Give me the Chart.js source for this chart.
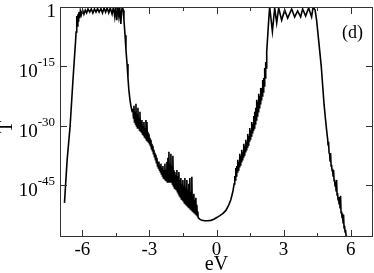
<!DOCTYPE html>
<html>
<head>
<meta charset="utf-8">
<script src="https://cdn.jsdelivr.net/npm/chart.js@4/dist/chart.umd.min.js"></script>
<style>
  html, body { margin: 0; padding: 0; background: #fff; }
  canvas { display: block; }
</style>
</head>
<body>
<canvas id="chart" width="374" height="273"></canvas>
<script>
// energies in eV, transmission given as log10(T)
const leftEdge = [[-6.80,-49.4],[-6.68,-38.5],[-6.55,-30.2],[-6.42,-18.4],[-6.30,-8.3],[-6.28,-6.3]];
const leftPlateau = [[-6.25,-2.3],[-6.23,-4.8],[-6.20,-1.8],[-6.17,-3.8],[-6.15,-1.3],[-6.12,-2.8],[-6.09,-1.0],
  [-6.05,-2.0],[-5.99,-0.8],[-5.93,-1.8],[-5.87,-0.8],[-5.81,-1.5],[-5.75,-0.5],[-5.67,-1.3],[-5.60,-0.5],
  [-5.53,-1.5],[-5.46,-0.5],[-5.39,-1.3],[-5.32,-0.4],[-5.25,-1.3],[-5.17,-0.4],[-5.10,-1.5],[-5.03,-0.25],
  [-4.96,-1.3],[-4.89,-0.25],[-4.82,-1.5],[-4.75,-0.25],[-4.67,-1.8],[-4.61,0],[-4.55,-2.5],[-4.50,0],
  [-4.46,-3.3],[-4.42,0],[-4.37,-2.3],[-4.33,0],[-4.28,-4.3],[-4.24,-0.8],[-4.21,0]];
const leftDrop = [[-4.17,-0.8],[-4.14,-3.3],[-4.09,-7.1],[-4.05,-10.8],[-4.00,-14.4],[-3.96,-17.9],
  [-3.92,-20.9],[-3.87,-23.4],[-3.83,-24.9],[-3.78,-26.2]];
const leftNoise = [[-3.737,-25.9],[-3.715,-28.0],[-3.692,-24.9],[-3.670,-29.0],[-3.647,-26.4],[-3.625,-29.5],
  [-3.603,-24.4],[-3.581,-30.0],[-3.558,-27.0],[-3.536,-30.5],[-3.513,-25.4],[-3.491,-30.25],
  [-3.469,-28.0],[-3.447,-31.0],[-3.424,-26.4],[-3.402,-31.25],[-3.379,-29.0],[-3.357,-31.5],
  [-3.335,-28.5],[-3.313,-32.0],[-3.290,-30.0],[-3.268,-32.25],[-3.246,-29.0],[-3.224,-32.75],
  [-3.201,-30.5],[-3.179,-33.0],[-3.156,-28.5],[-3.134,-33.5],[-3.112,-29.0],[-3.090,-33.75],
  [-3.067,-31.5],[-3.045,-34.0],[-3.022,-32.0],[-3.000,-34.5],[-2.978,-33.0],[-2.956,-35.0],
  [-2.933,-33.5],[-2.911,-35.75],[-2.888,-34.5],[-2.866,-36.25],[-2.844,-35.0],[-2.822,-37.0],
  [-2.799,-36.0],[-2.777,-37.75],[-2.754,-36.75],[-2.732,-38.5],[-2.710,-37.25],[-2.688,-39.25],
  [-2.665,-38.0],[-2.643,-40.1],[-2.621,-39.0],[-2.599,-40.6],[-2.576,-39.0],[-2.554,-41.1],
  [-2.531,-40.1],[-2.509,-41.6],[-2.487,-39.5],[-2.465,-42.1],[-2.442,-40.6],[-2.420,-42.6],
  [-2.397,-40.1],[-2.375,-43.1],[-2.353,-41.1],[-2.331,-43.3],[-2.308,-39.5],[-2.286,-43.6],
  [-2.263,-41.1],[-2.241,-43.8],[-2.219,-39.0],[-2.197,-44.1],[-2.174,-38.0],[-2.152,-43.8],
  [-2.129,-36.5],[-2.107,-44.1],[-2.085,-39.5],[-2.063,-43.8],[-2.040,-37.0],[-2.018,-44.1],
  [-1.996,-40.1],[-1.974,-44.6],[-1.951,-37.5],[-1.929,-45.1],[-1.906,-41.1],[-1.884,-45.6],
  [-1.862,-41.6],[-1.840,-45.8],[-1.817,-42.3],[-1.795,-46.1],[-1.772,-41.1],[-1.750,-46.6],
  [-1.728,-42.6],[-1.706,-47.1],[-1.683,-41.6],[-1.661,-47.6],[-1.638,-43.6],[-1.616,-47.9],
  [-1.594,-43.1],[-1.572,-48.4],[-1.549,-44.6],[-1.527,-48.6],[-1.504,-43.6],[-1.482,-48.9],
  [-1.460,-45.1],[-1.438,-49.4],[-1.415,-43.1],[-1.393,-49.6],[-1.371,-45.6],[-1.349,-49.9],
  [-1.326,-43.6],[-1.304,-50.1],[-1.281,-46.1],[-1.259,-50.4],[-1.237,-44.6],[-1.215,-50.6],
  [-1.192,-43.1],[-1.170,-50.9],[-1.147,-46.6],[-1.125,-51.1],[-1.103,-42.8],[-1.081,-51.4],
  [-1.058,-47.6],[-1.036,-51.6],[-1.013,-47.1],[-0.991,-51.9],[-0.969,-48.6],[-0.947,-52.1],
  [-0.924,-48.1],[-0.902,-52.4],[-0.879,-49.9],[-0.857,-52.6],[-0.835,-51.6],[-0.82,-53.1]];
const gapBowl = [[-0.75,-53.5],[-0.66,-53.8],[-0.52,-53.9],[-0.39,-53.9],[-0.25,-53.8],[-0.12,-53.5],
  [0.01,-53.1],[0.15,-52.6],[0.28,-52.1],[0.42,-51.3],[0.55,-49.9],[0.64,-48.6],[0.73,-46.6],[0.79,-44.6]];
const rightNoise = [[0.817,-42.6],[0.839,-43.6],[0.862,-40.6],[0.884,-42.6],[0.906,-40.1],[0.928,-41.6],
  [0.951,-38.5],[0.973,-41.1],[0.996,-39.0],[1.018,-40.3],[1.040,-37.0],[1.062,-39.8],
  [1.085,-37.5],[1.107,-39.0],[1.129,-36.0],[1.151,-38.5],[1.174,-36.5],[1.196,-37.8],
  [1.219,-34.5],[1.241,-37.3],[1.263,-35.0],[1.285,-36.5],[1.308,-33.5],[1.330,-36.0],
  [1.353,-34.0],[1.375,-35.3],[1.397,-32.0],[1.419,-34.8],[1.442,-32.5],[1.464,-33.8],
  [1.487,-30.5],[1.509,-33.3],[1.531,-31.0],[1.553,-32.5],[1.576,-29.0],[1.598,-31.7],
  [1.621,-29.5],[1.643,-31.0],[1.665,-27.5],[1.687,-30.5],[1.710,-26.4],[1.732,-29.5],
  [1.754,-25.4],[1.776,-28.5],[1.799,-23.4],[1.821,-27.5],[1.844,-23.9],[1.866,-26.4],
  [1.888,-21.9],[1.910,-25.4],[1.933,-22.4],[1.955,-24.4],[1.978,-20.4],[2.000,-23.4],
  [2.022,-20.4],[2.044,-22.4],[2.067,-18.4],[2.089,-21.4],[2.112,-17.9],[2.134,-19.9],
  [2.156,-15.4],[2.178,-17.9],[2.201,-13.9],[2.223,-15.4],[2.246,-11.3],[2.290,-7.3],[2.335,-3.3]];
const rightPlateau = [[2.379,0],[2.500,-6.2],[2.603,-0.25],[2.692,-4.0],[2.781,-0.25],[2.915,-3.3],
  [3.049,-0.76],[3.183,-2.8],[3.362,-0.5],[3.496,-2.5],[3.629,-1.0],[3.763,-2.5],[3.853,-0.5],
  [3.987,-2.3],[4.121,-0.25],[4.254,-2.5],[4.321,0],[4.411,-0.76]];
const rightDrop = [[4.478,-3.3],[4.545,-7.1],[4.612,-10.8],[4.688,-15.1],[4.746,-19.6],[4.813,-24.7],
  [4.879,-28.5],[4.924,-31.0],[4.969,-33.2],[4.991,-34.8],[5.013,-34.0],[5.035,-36.8],
  [5.058,-37.0],[5.080,-38.8],[5.103,-36.8],[5.125,-40.1],[5.147,-39.8],[5.169,-41.3],
  [5.192,-40.8],[5.214,-42.6],[5.237,-41.1],[5.259,-43.8],[5.281,-43.6],[5.303,-45.1],
  [5.326,-44.1],[5.348,-46.3],[5.371,-43.6],[5.393,-47.4],[5.415,-46.9],[5.437,-48.6],
  [5.460,-48.1],[5.482,-49.6],[5.504,-47.9],[5.526,-50.6],[5.549,-47.6],[5.571,-51.9],
  [5.594,-51.6],[5.616,-53.1],[5.638,-52.1],[5.660,-54.4],[5.683,-52.4],[5.705,-55.7],
  [5.728,-55.2],[5.750,-56.7],[5.772,-56.2],[5.794,-57.6],[5.817,-59.0]];

const xMajor = [-6, -3, 0, 3, 6];
const xMinor = [-4.5, -1.5, 1.5, 4.5];
const yMajorExp = [0, -15, -30, -45];

const curve = [leftEdge, leftPlateau, leftDrop, leftNoise, gapBowl, rightNoise, rightPlateau, rightDrop]
  .flat().map(p => ({ x: p[0], y: Math.pow(10, p[1]) }));

const SERIF = '"Liberation Serif", "DejaVu Serif", serif';

const frame = {
  id: 'frame',
  afterDraw(chart){
    const { ctx, chartArea: a, scales: { x, y } } = chart;
    ctx.save();
    ctx.strokeStyle = '#333';
    ctx.lineWidth = 1;
    ctx.strokeRect(a.left + 0.5, a.top + 0.5, a.right - a.left - 1, a.bottom - a.top - 1);

    ctx.beginPath();
    xMajor.forEach(v => {
      const px = Math.round(x.getPixelForValue(v)) + 0.5;
      ctx.moveTo(px, a.bottom); ctx.lineTo(px, a.bottom - 7);
      ctx.moveTo(px, a.top); ctx.lineTo(px, a.top + 7);
    });
    xMinor.forEach(v => {
      const px = Math.round(x.getPixelForValue(v)) + 0.5;
      ctx.moveTo(px, a.bottom); ctx.lineTo(px, a.bottom - 4);
      ctx.moveTo(px, a.top); ctx.lineTo(px, a.top + 4);
    });
    yMajorExp.forEach(e => {
      const py = Math.round(y.getPixelForValue(Math.pow(10, e))) + 0.5;
      ctx.moveTo(a.left, py); ctx.lineTo(a.left + 7, py);
      ctx.moveTo(a.right, py); ctx.lineTo(a.right - 7, py);
    });
    ctx.stroke();

    ctx.fillStyle = '#000';
    ctx.textBaseline = 'alphabetic';
    ctx.font = '19px ' + SERIF;
    ctx.textAlign = 'center';
    xMajor.forEach(v => ctx.fillText(String(v), x.getPixelForValue(v), 255));

    yMajorExp.forEach(e => {
      const py = y.getPixelForValue(Math.pow(10, e));
      const right = 55;
      if(e === 0){
        ctx.font = '19px ' + SERIF;
        ctx.textAlign = 'right';
        ctx.fillText('1', right + 1, py + 10);
        return;
      }
      const sup = String(e);
      ctx.font = '13px ' + SERIF;
      const supW = ctx.measureText(sup).width;
      ctx.textAlign = 'right';
      ctx.fillText(sup, right, py);
      ctx.font = '19px ' + SERIF;
      ctx.fillText('10', right - supW, py + 11);
    });

    ctx.font = '20px ' + SERIF;
    ctx.textAlign = 'center';
    ctx.fillText('eV', x.getPixelForValue(0), 270);

    ctx.save();
    ctx.translate(7, 127);
    ctx.rotate(-Math.PI / 2);
    ctx.textBaseline = 'middle';
    ctx.fillText('T', 0, 0);
    ctx.restore();

    ctx.font = '18px ' + SERIF;
    ctx.textAlign = 'center';
    ctx.fillText('(d)', 352.5, 38);
    ctx.restore();
  }
};

new Chart(document.getElementById('chart'), {
  type: 'line',
  data: {
    datasets: [{
      data: curve,
      borderColor: '#000',
      borderWidth: 1.6,
      pointRadius: 0,
      tension: 0,
      fill: false
    }]
  },
  options: {
    responsive: false,
    animation: false,
    layout: { padding: { left: 60, top: 7, right: 1, bottom: 36 } },
    plugins: { legend: { display: false }, tooltip: { enabled: false } },
    scales: {
      x: { type: 'linear', min: -7, max: 7, display: false },
      y: { type: 'logarithmic', min: 1e-58, max: 1, display: false }
    }
  },
  plugins: [frame]
});
</script>
</body>
</html>
